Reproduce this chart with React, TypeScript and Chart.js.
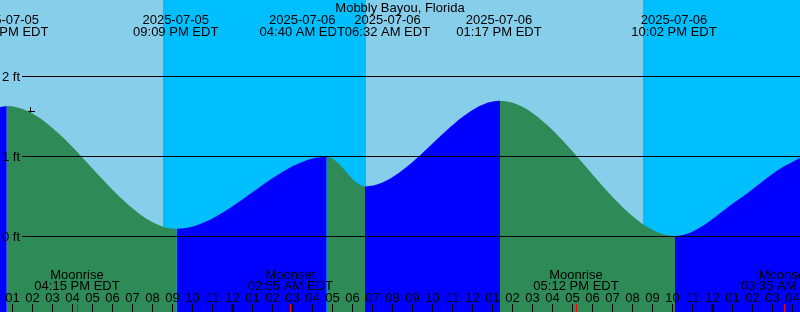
import { useEffect, useRef } from "react";
import { Chart, registerables } from "chart.js";

Chart.register(...registerables);

// ---- data (hours counted from 2025-07-05 00:00 EDT) ----
const stationTitle = "Mobbly Bayou, Florida";

const viewStartHour = 12.4;
const viewEndHour = 52.4;

const tideHours = [12.4, 12.74, 21.235, 28.735, 30.65, 37.4, 46.15, 49.4, 51.4, 52.4];
const tideFeet = [1.61, 1.625, 0.09, 0.99, 0.62, 1.69, 0.0, 0.47, 0.84, 0.975];

const extremeHours = [12.74, 21.235, 28.735, 30.65, 37.4, 46.15];
const extremeDates = ["2025-07-05", "2025-07-05", "2025-07-06", "2025-07-06", "2025-07-06", "2025-07-06"];
const extremeTimes = ["12:39 PM EDT", "09:09 PM EDT", "04:40 AM EDT", "06:32 AM EDT", "01:17 PM EDT", "10:02 PM EDT"];

const sunsetHours = [20.55, 44.55];
const sunriseHours = [30.683];

const moonHours = [16.25, 26.917, 41.2, 51.583];
const moonNames = ["Moonrise", "Moonset", "Moonrise", "Moonset"];
const moonTimes = ["04:15 PM EDT", "02:55 AM EDT", "05:12 PM EDT", "03:35 AM EDT"];

const depthTicks = [0, 1, 2];
const depthLabels = ["0 ft", "1 ft", "2 ft"];

const firstTickHour = 13;
const hourLabels = [
  "01", "02", "03", "04", "05", "06", "07", "08", "09", "10", "11", "12",
  "01", "02", "03", "04", "05", "06", "07", "08", "09", "10", "11", "12",
  "01", "02", "03", "04", "05", "06", "07", "08", "09", "10", "11", "12",
  "01", "02", "03", "04",
];

const nowHour = 13.925;
const nowFeet = 1.556;

// ---- styles ----
const DAY = "#87CEEB";
const NIGHT = "#00BFFF";
const EBB = "#2E8B57";
const FLOOD = "#0000FF";
const INK = "#000000";
const FONT = '13px "Liberation Sans", Arial, sans-serif';

const decorPlugin = {
  id: "tideDecor",
  beforeDraw(chart: any) {
    const { ctx, chartArea: a, scales } = chart;
    const x = scales.x;
    ctx.save();
    ctx.fillStyle = DAY;
    ctx.fillRect(a.left, a.top, a.right - a.left, a.bottom - a.top);
    ctx.fillStyle = NIGHT;
    sunsetHours.forEach((s) => {
      const rise = sunriseHours.find((r) => r > s) ?? x.max;
      const x0 = Math.round(x.getPixelForValue(s));
      const x1 = Math.round(x.getPixelForValue(rise));
      ctx.fillRect(x0, a.top, x1 - x0, a.bottom - a.top);
    });
    ctx.restore();
  },
  afterDatasetsDraw(chart: any) {
    const { ctx, chartArea: a, scales } = chart;
    const x = scales.x;
    const y = scales.y;
    ctx.save();
    ctx.font = FONT;
    ctx.fillStyle = INK;
    ctx.textBaseline = "alphabetic";

    // depth grid lines + labels
    depthTicks.forEach((v, i) => {
      const py = Math.round(y.getPixelForValue(v));
      ctx.fillRect(22, py, a.right - 22, 1);
      ctx.textAlign = "left";
      ctx.fillText(depthLabels[i], 2, py + 5);
    });

    // title
    ctx.textAlign = "center";
    ctx.fillText(stationTitle, (a.left + a.right) / 2, 12);

    // high / low labels with overlap resolution
    const cx = extremeHours.map((h) => x.getPixelForValue(h) - 1);
    const w = extremeHours.map((_, i) =>
      Math.max(ctx.measureText(extremeDates[i]).width, ctx.measureText(extremeTimes[i]).width)
    );
    for (let i = 1; i < cx.length; i++) {
      const overlap = cx[i - 1] + w[i - 1] / 2 - (cx[i] - w[i] / 2);
      if (overlap > 0) {
        cx[i - 1] -= overlap / 2;
        cx[i] += overlap / 2;
      }
    }
    cx.forEach((px, i) => {
      ctx.fillText(extremeDates[i], px, 24);
      ctx.fillText(extremeTimes[i], px, 36);
    });

    // hour ticks + labels
    hourLabels.forEach((lab, i) => {
      const h = firstTickHour + i;
      const px = Math.round(x.getPixelForValue(h));
      if (h % 24 === 0) ctx.fillRect(px - 1, 304, 3, 8);
      else ctx.fillRect(px, 304, 1, 8);
      ctx.fillText(lab, px + 0.5, 302);
    });

    // moon events
    moonHours.forEach((h, i) => {
      const px = x.getPixelForValue(h);
      ctx.fillStyle = INK;
      ctx.fillText(moonNames[i], px, 279);
      ctx.fillText(moonTimes[i], px, 290);
      ctx.fillStyle = "#FF0000";
      ctx.fillRect(Math.round(px), 304, 1, 8);
    });

    ctx.restore();
  },
};

export default function App() {
  const ref = useRef<HTMLCanvasElement | null>(null);

  useEffect(() => {
    document.body.style.margin = "0";
    if (!ref.current) return;
    const chart = new Chart(ref.current, {
      type: "line",
      data: {
        datasets: [
          {
            label: "Tide",
            data: tideHours.map((h, i) => ({ x: h, y: tideFeet[i] })),
            fill: "start",
            cubicInterpolationMode: "monotone",
            pointRadius: 0,
            borderWidth: 0,
            borderColor: "rgba(0,0,0,0)",
            backgroundColor: EBB,
            segment: {
              backgroundColor: (c: any) => (c.p1.parsed.y > c.p0.parsed.y ? FLOOD : EBB),
            },
          } as any,
          {
            type: "scatter",
            label: "Now",
            data: [{ x: nowHour, y: nowFeet }],
            pointStyle: "cross",
            pointRadius: 4.5,
            pointBorderColor: INK,
            pointBorderWidth: 1,
            showLine: false,
          } as any,
        ],
      },
      options: {
        animation: false,
        responsive: false,
        maintainAspectRatio: false,
        devicePixelRatio: 1,
        events: [],
        layout: { padding: 0, autoPadding: false },
        plugins: {
          legend: { display: false },
          tooltip: { enabled: false },
          title: { display: false },
        },
        scales: {
          x: { type: "linear", min: viewStartHour, max: viewEndHour, display: false },
          y: { type: "linear", min: -0.95, max: 2.95, display: false },
        },
      },
      plugins: [decorPlugin],
    } as any);
    return () => chart.destroy();
  }, []);

  return <canvas ref={ref} width={800} height={312} style={{ display: "block" }} />;
}
